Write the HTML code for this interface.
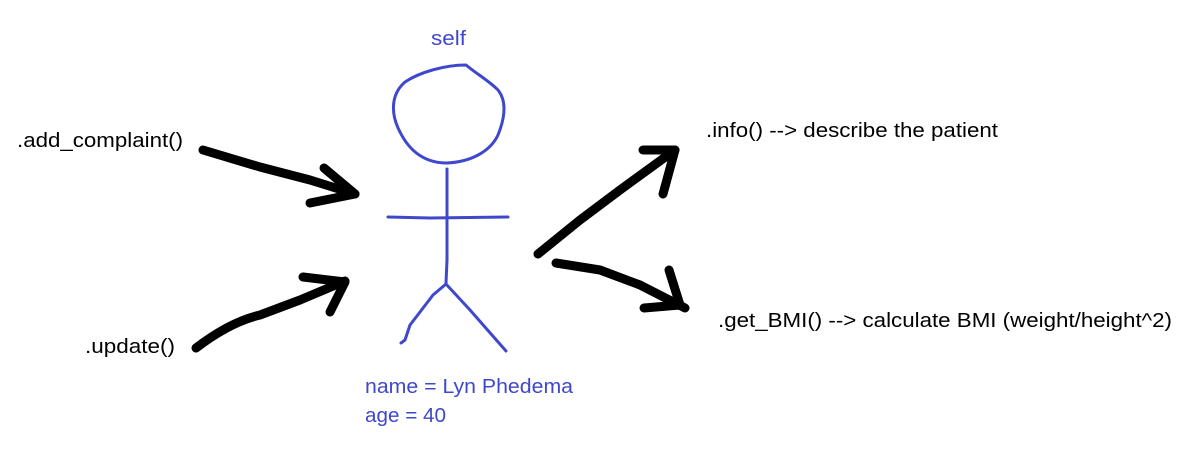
<!DOCTYPE html>
<html><head><style>
html,body{margin:0;padding:0;background:#fff;}
svg{display:block;}
text{font-family:"Liberation Sans",sans-serif;font-size:20px;}
</style></head><body>
<svg width="1187" height="457" viewBox="0 0 1187 457" xmlns="http://www.w3.org/2000/svg">
<g fill="none" stroke="#000" stroke-width="9" stroke-linecap="round" stroke-linejoin="round">
<path d="M203,150 L260,167 L310,180 L355,194"/>
<path d="M324,168 L355,194 L310,203"/>
<path d="M196,348 Q230,322 260,315 L300,300 L345,281"/>
<path d="M303,277 L345,282 L330,312"/>
<path d="M538,254 L580,220 L620,190 L675,150"/>
<path d="M643,150 L675,150 L663,194"/>
<path d="M556,263 L600,270 L640,285 L685,308"/>
<path d="M669,270 L680,305 L644,308"/>
</g>
<g fill="none" stroke="#3f48cc" stroke-width="3" stroke-linecap="round" stroke-linejoin="round">
<path d="M466,65 C445,65 420,72 405,82 C390,95 391,115 400,132 C410,152 425,163 447,163 C470,162 490,152 498,135 C506,115 506,100 498,90 C488,80 478,75 466,65 Z"/>
<path d="M447,169 L447,260 L446,283"/>
<path d="M388,217 L430,218 L508,217"/>
<path d="M446,284 L433,295 L420,312 L410,325 L405,340 L401,343"/>
<path d="M446,284 L470,310 L506,351"/>
</g>
<g fill="#3f48cc">
<text x="431" y="45" textLength="35" lengthAdjust="spacingAndGlyphs">self</text>
<text x="365" y="393" textLength="208" lengthAdjust="spacingAndGlyphs">name = Lyn Phedema</text>
<text x="365" y="422" textLength="81" lengthAdjust="spacingAndGlyphs">age = 40</text>
</g>
<g fill="#000">
<text x="17" y="147" textLength="166" lengthAdjust="spacingAndGlyphs">.add_complaint()</text>
<text x="85" y="353" textLength="90" lengthAdjust="spacingAndGlyphs">.update()</text>
<text x="706" y="137" textLength="292" lengthAdjust="spacingAndGlyphs">.info() --&gt; describe the patient</text>
<text x="718" y="327" textLength="454" lengthAdjust="spacingAndGlyphs">.get_BMI() --&gt; calculate BMI (weight/height^2)</text>
</g>
</svg>
</body></html>
